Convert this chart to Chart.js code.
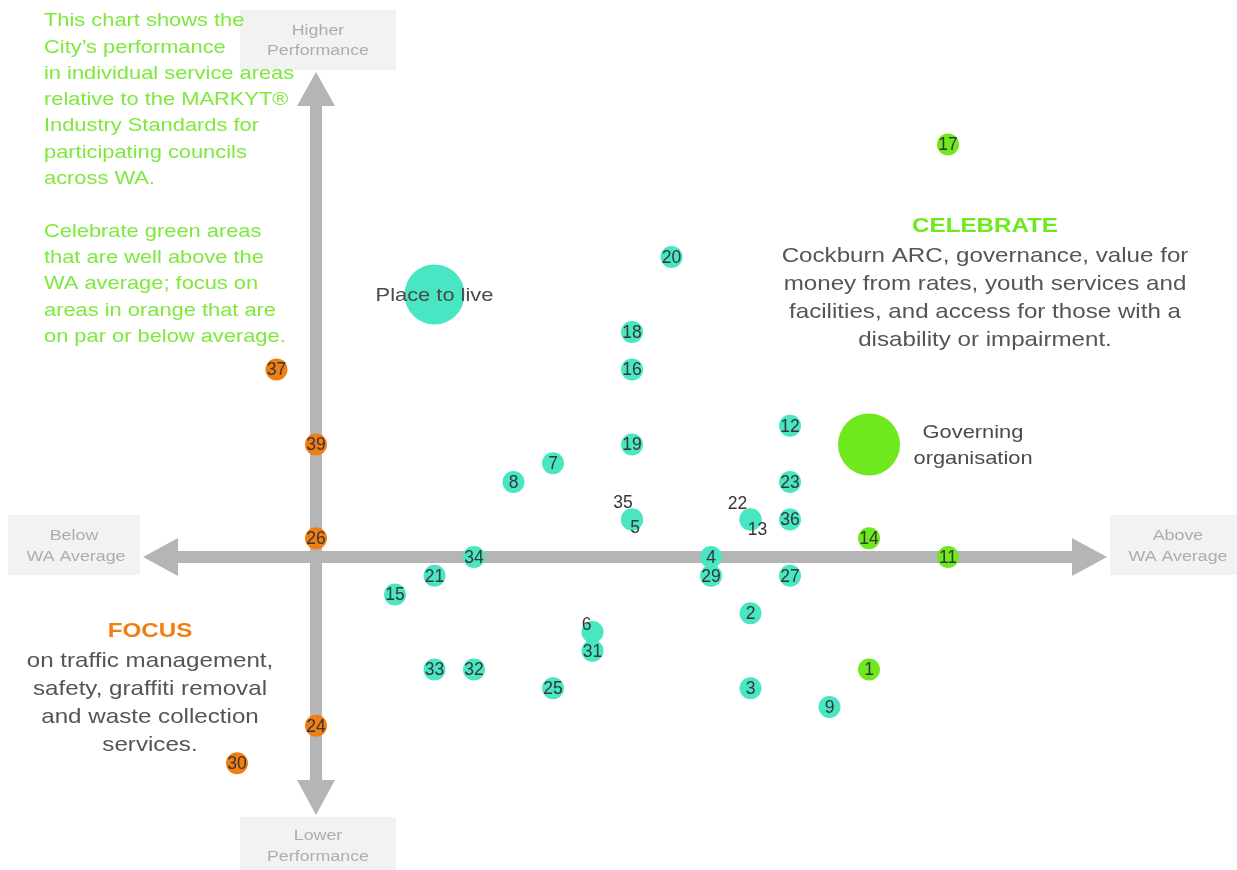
<!DOCTYPE html>
<html>
<head>
<meta charset="utf-8">
<script src="https://cdn.jsdelivr.net/npm/chart.js@4.4.1/dist/chart.umd.min.js"></script>
<style>
  html, body { margin: 0; padding: 0; background: #ffffff; overflow: hidden; }
  #quad { display: block; }
</style>
</head>
<body>
<canvas id="quad" width="1237" height="870"></canvas>
<script>
// service areas: x = relative to WA average, y = performance
const tealIds = ['20', '18', '16', '12', '19', '7', '8', '23', '35', '5', '22', '13', '36', '34', '4', '21', '29', '27', '15', '2', '6', '31', '33', '32', '25', '3', '9'];
const tealX   = [9, 8, 8, 12, 8, 6, 5, 12, 8, 8, 11, 11, 12, 4, 10, 3, 10, 12, 2, 11, 7, 7, 3, 4, 6, 11, 13];
const tealY   = [16, 12, 10, 7, 6, 5, 4, 4, 2, 2, 2, 2, 2, 0, 0, -1, -1, -1, -2, -3, -4, -5, -6, -6, -7, -7, -8];

const greenIds = ['17', '14', '11', '1'];
const greenX   = [16, 14, 16, 14];
const greenY   = [22, 1, 0, -6];

const orangeIds = ['37', '39', '26', '24', '30'];
const orangeX   = [-1, 0, 0, 0, -2];
const orangeY   = [10, 6, 1, -9, -11];

const bigLabels = ['Place to live', 'Governing organisation'];
const bigX = [3, 14];
const bigY = [14, 6];

const TEAL = '#48e6c2';
const GREEN = '#6fe81e';
const ORANGE = '#f07e12';
const AXIS = '#b5b5b5';

// a few labels sit off-centre where points overlap
const labelShift = { '35': [-9, -17], '5': [3, 8], '22': [-13, -16], '13': [7, 10], '6': [-6, -8] };

const toPts = (xs, ys) => xs.map((x, i) => ({ x: x, y: ys[i] }));

const leftNote = [
  'This chart shows the', 'City\u2019s performance', 'in individual service areas',
  'relative to the MARKYT\u00ae', 'Industry Standards for', 'participating councils', 'across WA.', '',
  'Celebrate green areas', 'that are well above the', 'WA average; focus on',
  'areas in orange that are', 'on par or below average.'
];
const celebrateText = ['Cockburn ARC, governance, value for', 'money from rates, youth services and',
  'facilities, and access for those with a', 'disability or impairment.'];
const focusText = ['on traffic management,', 'safety, graffiti removal', 'and waste collection', 'services.'];

// the source image is a little stretched sideways
const STRETCH = 1.15;
function wideText(c, t, x, y) {
  c.save();
  c.translate(x, y);
  c.scale(STRETCH, 1);
  c.fillText(t, 0, 0);
  c.restore();
}

const quadrantPlugin = {
  id: 'quadrant',
  beforeDatasetsDraw(chart) {
    const c = chart.ctx;
    const sx = chart.scales.x, sy = chart.scales.y;
    const ox = sx.getPixelForValue(0), oy = sy.getPixelForValue(0);
    c.save();
    // label boxes
    c.fillStyle = '#f2f2f2';
    c.fillRect(240, 10, 156, 60);
    c.fillRect(240, 817, 156, 53);
    c.fillRect(8, 515, 132, 60);
    c.fillRect(1110, 515, 127, 60);
    c.fillStyle = '#adadad';
    c.font = '15.5px "Liberation Sans", Arial, sans-serif';
    c.textAlign = 'center';
    c.textBaseline = 'middle';
    wideText(c, 'Higher', 318, 31);
    wideText(c, 'Performance', 318, 51);
    wideText(c, 'Lower', 318, 836);
    wideText(c, 'Performance', 318, 857);
    wideText(c, 'Below', 74, 536);
    wideText(c, 'WA Average', 76, 557);
    wideText(c, 'Above', 1178, 536);
    wideText(c, 'WA Average', 1178, 557);
    // axis arrows
    c.fillStyle = AXIS;
    c.fillRect(ox - 6, 100, 12, 685);
    c.fillRect(175, oy - 6, 900, 12);
    c.beginPath();
    c.moveTo(ox, 72); c.lineTo(ox + 19, 106); c.lineTo(ox - 19, 106); c.closePath();
    c.moveTo(ox, 815); c.lineTo(ox + 19, 780); c.lineTo(ox - 19, 780); c.closePath();
    c.moveTo(143, oy); c.lineTo(178, oy - 19); c.lineTo(178, oy + 19); c.closePath();
    c.moveTo(1107, oy); c.lineTo(1072, oy - 19); c.lineTo(1072, oy + 19); c.closePath();
    c.fill();
    c.restore();
  },
  afterDatasetsDraw(chart) {
    const c = chart.ctx;
    c.save();
    c.textAlign = 'center';
    c.textBaseline = 'middle';
    // point numbers
    c.font = '17.5px "Liberation Sans", Arial, sans-serif';
    c.fillStyle = '#363636';
    chart.data.datasets.forEach((ds, di) => {
      if (!ds.ids) return;
      chart.getDatasetMeta(di).data.forEach((el, i) => {
        const id = ds.ids[i];
        const s = labelShift[id] || [0, 0];
        c.fillText(id, el.x + s[0], el.y + s[1] + 1);
      });
    });
    // big bubble captions
    const bigMeta = chart.getDatasetMeta(3).data;
    c.font = '19px "Liberation Sans", Arial, sans-serif';
    c.fillStyle = '#4a4a4a';
    wideText(c, bigLabels[0], bigMeta[0].x, bigMeta[0].y + 1);
    wideText(c, 'Governing', bigMeta[1].x + 104, bigMeta[1].y - 12);
    wideText(c, 'organisation', bigMeta[1].x + 104, bigMeta[1].y + 14);
    // left note
    c.textAlign = 'left';
    c.font = '19px "Liberation Sans", Arial, sans-serif';
    c.fillStyle = '#7ee83c';
    leftNote.forEach((t, i) => wideText(c, t, 44, 21 + i * 26.3));
    // celebrate block
    c.textAlign = 'center';
    c.font = 'bold 21px "Liberation Sans", Arial, sans-serif';
    c.fillStyle = '#6fe81e';
    wideText(c, 'CELEBRATE', 985, 226);
    c.font = '21px "Liberation Sans", Arial, sans-serif';
    c.fillStyle = '#555';
    celebrateText.forEach((t, i) => wideText(c, t, 985, 256 + i * 28));
    // focus block
    c.font = 'bold 21px "Liberation Sans", Arial, sans-serif';
    c.fillStyle = ORANGE;
    wideText(c, 'FOCUS', 150, 631);
    c.font = '21px "Liberation Sans", Arial, sans-serif';
    c.fillStyle = '#555';
    focusText.forEach((t, i) => wideText(c, t, 150, 661 + i * 28));
    c.restore();
  }
};

const ctx = document.getElementById('quad').getContext('2d');
new Chart(ctx, {
  type: 'scatter',
  data: {
    datasets: [
      { ids: tealIds, data: toPts(tealX, tealY), backgroundColor: TEAL, pointRadius: 11, borderWidth: 0 },
      { ids: greenIds, data: toPts(greenX, greenY), backgroundColor: GREEN, pointRadius: 11, borderWidth: 0 },
      { ids: orangeIds, data: toPts(orangeX, orangeY), backgroundColor: ORANGE, pointRadius: 11, borderWidth: 0 },
      { data: toPts(bigX, bigY), backgroundColor: [TEAL, GREEN], pointRadius: [30, 31], borderWidth: 0 }
    ]
  },
  options: {
    responsive: false,
    animation: false,
    devicePixelRatio: 1,
    layout: { padding: 0, autoPadding: false },
    plugins: { legend: { display: false }, tooltip: { enabled: false } },
    scales: {
      x: { type: 'linear', display: false, min: -8, max: 23.316 },
      y: { type: 'linear', display: false, min: -16.693, max: 29.707 }
    }
  },
  plugins: [quadrantPlugin]
});
</script>
</body>
</html>
